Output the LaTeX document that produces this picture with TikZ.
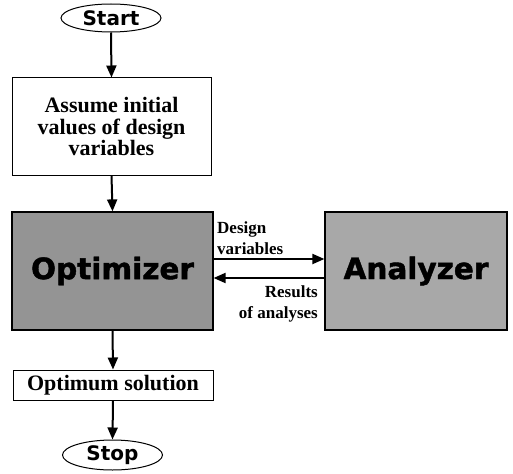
\documentclass[tikz,border=0pt]{standalone}
\usepackage{fontspec}
\setmainfont{Liberation Serif}
\newfontfamily\headfont[FakeBold=1.5]{DejaVu Sans Bold}
\newfontfamily\termfont{DejaVu Sans Bold}
\usetikzlibrary{shapes.geometric,arrows.meta}
\definecolor{optgray}{HTML}{949494}
\definecolor{anagray}{HTML}{A8A8A8}
\begin{document}
\begin{tikzpicture}[x=1pt,y=-1pt,
  termbox/.style={ellipse,draw,line width=1pt,inner sep=0pt,minimum width=100pt,minimum height=28pt,font=\termfont\fontsize{20}{22}\selectfont},
  stepbox/.style={rectangle,draw,line width=1pt,inner sep=2pt,align=center,font=\bfseries\fontsize{22}{21.5}\selectfont},
  bigbox/.style={rectangle,draw,line width=1.2pt,inner sep=0pt,minimum height=118pt,font=\headfont\fontsize{29.5}{30}\selectfont},
  flow/.style={line width=2pt,-{Triangle[length=12pt,width=10pt]}},
  lbl/.style={font=\bfseries\fontsize{17}{21}\selectfont,inner sep=0pt}
]
\useasboundingbox (0,0) rectangle (513,473);
\node[termbox] (start) at (111,18) {Start};
\node[stepbox,minimum width=199pt,minimum height=97pt] (assume) at (111.5,126.5) {Assume initial\\values of design\\variables};
\node[bigbox,fill=optgray,minimum width=201pt] (opt) at (112.5,271) {Optimizer};
\node[bigbox,fill=anagray,minimum width=182pt] (ana) at (416,271) {Analyzer};
\node[stepbox,minimum width=200pt,minimum height=30pt] (sol) at (113,385) {Optimum solution};
\node[termbox,minimum height=30pt] (stop) at (112.5,455) {Stop};
\node[lbl,align=left,anchor=west] (dv) at (217,238) {Design\\variables};
\node[lbl,align=right,anchor=east] (ra) at (318,303.5) {Results\\of analyses};
\draw[flow] (start.south) -- (assume.north);
\draw[flow] (assume.south) -- (opt.north);
\draw[flow] (opt.south) -- (sol.north);
\draw[flow] (sol.south) -- (stop.north);
\draw[flow] (opt.east |- 0,259) -- (ana.west |- 0,259);
\draw[flow] (ana.west |- 0,278) -- (opt.east |- 0,278);
\end{tikzpicture}
\end{document}
